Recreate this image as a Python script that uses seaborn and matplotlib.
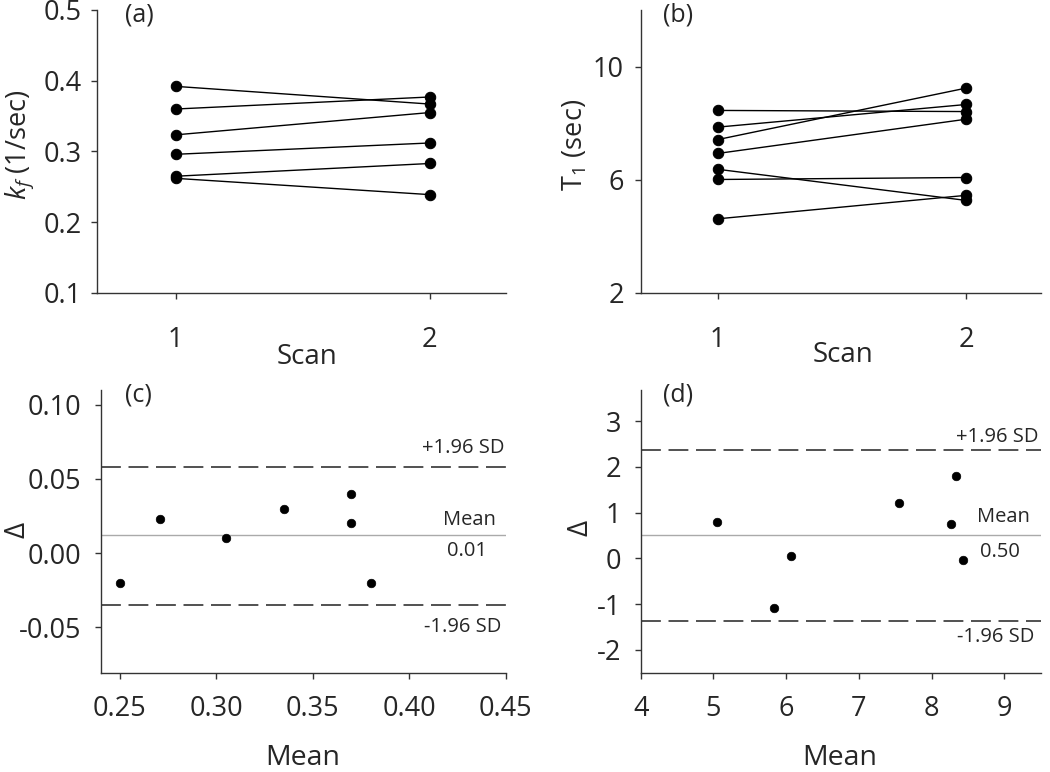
import numpy as np
import pandas as pd
import matplotlib
matplotlib.use("Agg")
import matplotlib.pyplot as plt
import seaborn as sns

# panel (a): forward rate constant, scan 1 vs scan 2
kf_scan1 = [0.392, 0.360, 0.3235, 0.296, 0.265, 0.262]
kf_scan2 = [0.367, 0.377, 0.355, 0.312, 0.283, 0.239]

# panel (b): T1, scan 1 vs scan 2
t1_scan1 = [8.45, 7.86, 7.42, 6.93, 6.37, 6.01, 4.62]
t1_scan2 = [8.41, 8.66, 9.24, 8.14, 5.27, 6.08, 5.45]

# panel (c): Bland-Altman for kf
kf_mean = [0.250, 0.271, 0.305, 0.335, 0.370, 0.370, 0.380]
kf_diff = [-0.020, 0.023, 0.010, 0.030, 0.040, 0.020, -0.020]
kf_limits = {"upper": 0.058, "mean": 0.012, "lower": -0.035}
kf_mean_label = "0.01"

# panel (d): Bland-Altman for T1
t1_mean = [5.05, 5.83, 6.06, 7.55, 8.33, 8.26, 8.43]
t1_diff = [0.79, -1.09, 0.06, 1.22, 1.81, 0.76, -0.04]
t1_limits = {"upper": 2.36, "mean": 0.50, "lower": -1.36}
t1_mean_label = "0.50"

sns.set_style("ticks")
plt.rcParams['font.family'] = ['Open Sans', 'DejaVu Sans']
plt.rcParams['mathtext.fontset'] = 'custom'
plt.rcParams['mathtext.rm'] = 'Open Sans'
plt.rcParams['mathtext.it'] = 'Open Sans:italic'
plt.rcParams['axes.unicode_minus'] = False

SPINE = '#333333'
TICK_FS = 19.5


def long_form(s1, s2):
    rows = []
    for i, (a, b) in enumerate(zip(s1, s2)):
        rows.append({'subject': i, 'scan': 1, 'value': a})
        rows.append({'subject': i, 'scan': 2, 'value': b})
    return pd.DataFrame(rows)


def style_axes(ax, xpad, ypad):
    sns.despine(ax=ax)
    for sp in ['left', 'bottom']:
        ax.spines[sp].set_color(SPINE)
        ax.spines[sp].set_linewidth(1.0)
    ax.tick_params(direction='out', length=4, width=1, color=SPINE, labelsize=TICK_FS)
    ax.tick_params(axis='x', pad=xpad)
    ax.tick_params(axis='y', pad=ypad)


def paired_panel(ax, s1, s2):
    df = long_form(s1, s2)
    sns.lineplot(data=df, x='scan', y='value', units='subject', estimator=None,
                 color='black', lw=1, marker='o', markersize=7.5,
                 markeredgecolor='black', ax=ax)
    ax.set_xlim(0.69, 2.3)
    ax.set_xticks([1, 2])


def ba_panel(ax, m, d, limits, mean_txt, pos):
    df = pd.DataFrame({'mean': m, 'diff': d})
    sns.scatterplot(data=df, x='mean', y='diff', color='black', s=38,
                    edgecolor='black', ax=ax, zorder=3)
    ax.axhline(limits['upper'], color='#222222', lw=1.1, dashes=(13, 5))
    ax.axhline(limits['lower'], color='#222222', lw=1.1, dashes=(13, 5))
    ax.axhline(limits['mean'], color='#aaaaaa', lw=1.0)
    kw = dict(xycoords=('axes fraction', 'data'), textcoords='offset points',
              va='center', fontsize=14.5)
    ax.annotate('+1.96 SD', xy=(pos['up_x'], limits['upper']), xytext=(0, pos['up_dy']), ha='right', **kw)
    ax.annotate('Mean', xy=(pos['mean_x'], limits['mean']), xytext=(0, pos['mean_dy']), ha='right', **kw)
    ax.annotate(mean_txt, xy=(pos['val_x'], limits['mean']), xytext=(0, pos['val_dy']), ha='center', **kw)
    ax.annotate('-1.96 SD', xy=(pos['lo_x'], limits['lower']), xytext=(0, pos['lo_dy']), ha='right', **kw)


fig = plt.figure(figsize=(10.5, 7.72), dpi=100)
ax_a = fig.add_axes([0.0924, 0.6205, 0.3895, 0.3666])
ax_b = fig.add_axes([0.6102, 0.6205, 0.381, 0.3666])
ax_c = fig.add_axes([0.0959, 0.1279, 0.3857, 0.367])
ax_d = fig.add_axes([0.6102, 0.1279, 0.381, 0.367])

# (a)
paired_panel(ax_a, kf_scan1, kf_scan2)
ax_a.set_ylim(0.1, 0.5)
ax_a.set_yticks([0.1, 0.2, 0.3, 0.4, 0.5])
ax_a.set_yticklabels(['0.1', '0.2', '0.3', '0.4', '0.5'])
style_axes(ax_a, 20, 7)
ax_a.set_xlabel('Scan', fontsize=20)
ax_a.set_ylabel(r'$k_f$ (1/sec)', fontsize=19.5)
ax_a.xaxis.set_label_coords(0.513, -0.175)
ax_a.yaxis.set_label_coords(-0.15, 0.523)
ax_a.text(0.068, 0.982, '(a)', transform=ax_a.transAxes, fontsize=18, va='center', ha='left')

# (b)
paired_panel(ax_b, t1_scan1, t1_scan2)
ax_b.set_ylim(2, 12)
ax_b.set_yticks([2, 6, 10])
style_axes(ax_b, 20, 8)
ax_b.set_xlabel('Scan', fontsize=20)
ax_b.set_ylabel(r'T$_\mathrm{1}$ (sec)', fontsize=19.5)
ax_b.xaxis.set_label_coords(0.505, -0.17)
ax_b.yaxis.set_label_coords(-0.128, 0.523)
ax_b.text(0.055, 0.982, '(b)', transform=ax_b.transAxes, fontsize=18, va='center', ha='left')

# (c)
ba_panel(ax_c, kf_mean, kf_diff, kf_limits, kf_mean_label,
         dict(up_x=0.998, up_dy=13.5, mean_x=0.976, mean_dy=11, val_x=0.904, val_dy=-11.5,
              lo_x=0.99, lo_dy=-16))
ax_c.set_xlim(0.24, 0.45)
ax_c.set_ylim(-0.081, 0.11)
ax_c.set_xticks([0.25, 0.30, 0.35, 0.40, 0.45])
ax_c.set_xticklabels(['0.25', '0.30', '0.35', '0.40', '0.45'])
ax_c.set_yticks([-0.05, 0.0, 0.05, 0.10])
ax_c.set_yticklabels(['-0.05', '0.00', '0.05', '0.10'])
style_axes(ax_c, 12, 10)
ax_c.set_xlabel('Mean', fontsize=20.5)
ax_c.set_ylabel('Δ', fontsize=20)
ax_c.xaxis.set_label_coords(0.5, -0.248)
ax_c.yaxis.set_label_coords(-0.17, 0.505)
ax_c.text(0.06, 0.982, '(c)', transform=ax_c.transAxes, fontsize=18, va='center', ha='left')

# (d)
ba_panel(ax_d, t1_mean, t1_diff, t1_limits, t1_mean_label,
         dict(up_x=0.995, up_dy=9.5, mean_x=0.9725, mean_dy=13, val_x=0.8975, val_dy=-12,
              lo_x=0.985, lo_dy=-12))
ax_d.set_xlim(4, 9.5)
ax_d.set_ylim(-2.51, 3.68)
ax_d.set_xticks([4, 5, 6, 7, 8, 9])
ax_d.set_yticks([-2, -1, 0, 1, 2, 3])
style_axes(ax_d, 12, 10)
ax_d.set_xlabel('Mean', fontsize=20.5)
ax_d.set_ylabel('Δ', fontsize=20)
ax_d.xaxis.set_label_coords(0.4975, -0.248)
ax_d.yaxis.set_label_coords(-0.115, 0.512)
ax_d.text(0.055, 0.982, '(d)', transform=ax_d.transAxes, fontsize=18, va='center', ha='left')

fig.savefig('out.png', dpi=100, facecolor='white')
